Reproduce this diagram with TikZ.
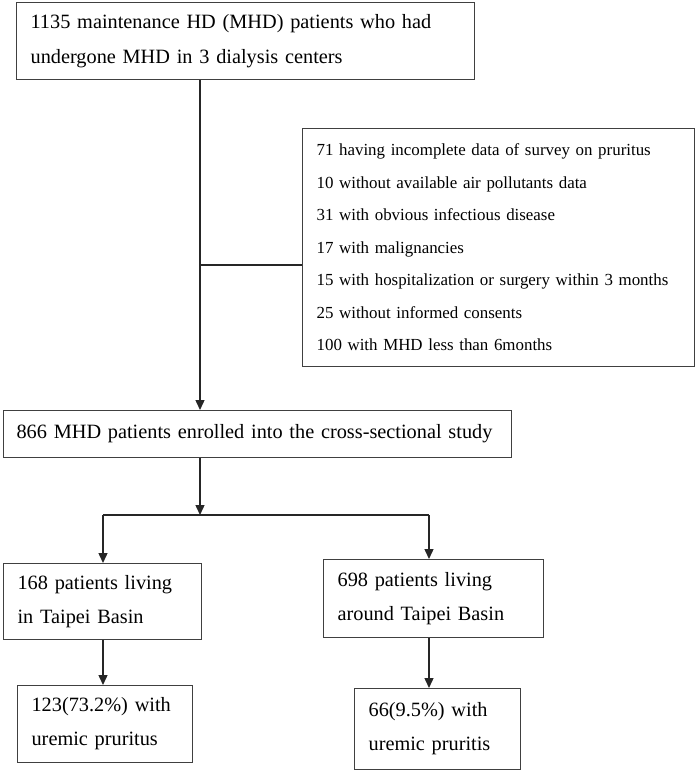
\documentclass[tikz,border=0pt]{standalone}
\usepackage{fontspec}
\setmainfont{Liberation Serif}
\usetikzlibrary{arrows.meta, positioning, calc}

\tikzset{
  box/.style={draw=black!75, line width=1.2pt, anchor=north west, inner xsep=14pt, inner ysep=0pt,
    align=left, font=\fontsize{20.3}{34}\selectfont},
  line/.style={draw=black!85, line width=1.4pt},
  arr/.style={line, -{Triangle[length=10pt,width=9pt]}}
}

\begin{document}
\begin{tikzpicture}[x=1pt, y=-1pt]
\useasboundingbox (0,0) rectangle (697,772);

% boxes
\node[box, text width=430pt, minimum height=77pt, font=\fontsize{20.3}{35}\selectfont] (top) at (16,2)
  {1135 maintenance HD (MHD) patients who had\\undergone MHD in 3 dialysis centers};
\node[box, text width=364pt, minimum height=238pt, font=\fontsize{16.9}{32.5}\selectfont] (excl) at (302,128)
  {71 having incomplete data of survey on pruritus\\
   10 without available air pollutants data\\
   31 with obvious infectious disease\\
   17 with malignancies\\
   15 with hospitalization or surgery within 3 months\\
   25 without informed consents\\
   100 with MHD less than 6months};
\node[box, text width=482pt, minimum height=47pt, inner xsep=13pt] (mid) at (3,410)
  {866 MHD patients enrolled into the cross-sectional study};
\node[box, text width=170pt, minimum height=76pt] (left1) at (3,563)
  {168 patients living\\in Taipei Basin};
\node[box, text width=192pt, minimum height=78pt] (right1) at (323,559)
  {698 patients living\\around Taipei Basin};
\node[box, text width=147pt, minimum height=77pt] (left2) at (17,685)
  {123(73.2\%) with\\uremic pruritus};
\node[box, text width=138pt, minimum height=81pt] (right2) at (354,688)
  {66(9.5\%) with\\uremic pruritis};

% connectors
\coordinate (split) at (200,265);
\coordinate (fork) at (200,515);
\coordinate (forkL) at (103,515);
\coordinate (forkR) at (429,515);

\draw[arr] (top.south -| fork) -- (mid.north -| fork);
\draw[line] (split) -- (split -| excl.west);
\draw[arr] (mid.south -| fork) -- (fork);
\draw[line] (forkL) -- (forkR);
\draw[arr] (forkL) -- (forkL |- left1.north);
\draw[arr] (forkR) -- (forkR |- right1.north);
\draw[arr] (forkL |- left1.south) -- (forkL |- left2.north);
\draw[arr] (right1.south -| forkR) -- (forkR |- right2.north);

\end{tikzpicture}
\end{document}
